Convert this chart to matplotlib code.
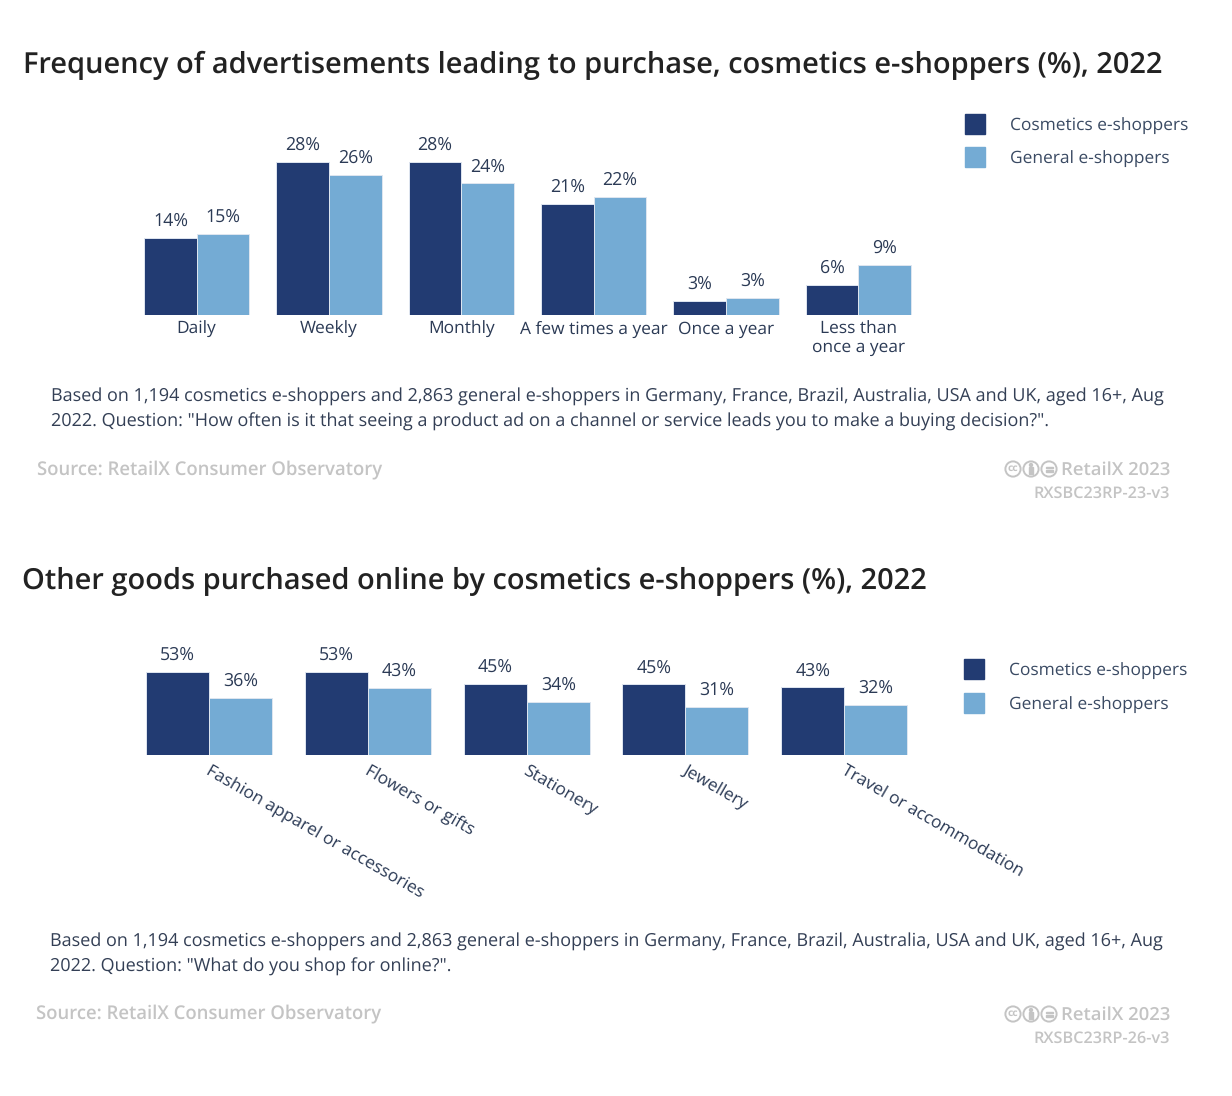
import matplotlib
matplotlib.use("Agg")
import matplotlib.pyplot as plt
from matplotlib.patches import Circle, Rectangle
import numpy as np

plt.rcParams['font.family'] = ['Open Sans', 'DejaVu Sans']
plt.rcParams['text.hinting'] = 'no_hinting'

NAVY = '#223b72'
BLUE = '#74abd4'
TEXT = '#2b3a55'
GREY = '#c4c4c4'
W, H = 1232, 1096

# top chart, bar heights (labels are the rounded values)
freq_cats = ['Daily', 'Weekly', 'Monthly', 'A few times a year', 'Once a year', 'Less than\nonce a year']
freq_cosmetics = [14.3, 28.4, 28.4, 20.6, 2.6, 5.6]
freq_general = [15.0, 26.0, 24.4, 21.9, 3.2, 9.3]
# bottom chart
goods_cats = ['Fashion apparel or accessories', 'Flowers or gifts', 'Stationery', 'Jewellery', 'Travel or accommodation']
goods_cosmetics = [53.4, 53.2, 45.4, 45.3, 43.4]
goods_general = [36.4, 43.0, 34.0, 30.8, 32.0]

series_names = ['Cosmetics e-shoppers', 'General e-shoppers']


def px_axes(fig, x0, y0, x1, y1):
    return fig.add_axes([x0 / W, 1 - y1 / H, (x1 - x0) / W, (y1 - y0) / H])


def txt(x, y, s, **kw):
    kw.setdefault('color', TEXT)
    kw.setdefault('va', 'center')
    kw.setdefault('fontsize', 12.5)
    fig.text(x / W, 1 - y / H, s, **kw)


def bars(ax, a, b, width):
    x = np.arange(len(a))
    ax.bar(x - width / 2, a, width, color=NAVY, edgecolor='#dfe6f0', linewidth=0.7)
    ax.bar(x + width / 2, b, width, color=BLUE, edgecolor='#dfe6f0', linewidth=0.7)
    for i in x:
        ax.annotate(f'{round(a[i])}%', (i - width / 2, a[i]), xytext=(0, 5.5), textcoords='offset points',
                    ha='center', va='bottom', fontsize=12.8, color=TEXT)
        ax.annotate(f'{round(b[i])}%', (i + width / 2, b[i]), xytext=(0, 5.5), textcoords='offset points',
                    ha='center', va='bottom', fontsize=12.8, color=TEXT)
    for s in ax.spines.values():
        s.set_visible(False)
    ax.set_yticks([])
    ax.set_xticks(x)
    ax.tick_params(axis='x', length=0)
    ax.set_xlim(-0.5, len(a) - 0.5)


def legend(x, y1, y2):
    for y, c, name in zip((y1, y2), (NAVY, BLUE), series_names):
        overlay.add_patch(Rectangle((x, y - 10), 20, 20, color=c))
        txt(x + 45, y + 2, name, color='#3a4a63', fontsize=12.5)


def cc_icons(x_right, y):
    # creative commons badges, no installed font has them
    cc, by, nd = x_right - 157, x_right - 139, x_right - 121
    for cx in (cc, by, nd):
        overlay.add_patch(Circle((cx, y), 7.6, facecolor='white', edgecolor=GREY, linewidth=1.4))
    overlay.text(cc, y - 0.5, 'cc', fontsize=7.5, color=GREY, ha='center', va='center', fontweight='bold')
    overlay.add_patch(Circle((by, y - 4), 1.5, color=GREY))
    overlay.add_patch(Rectangle((by - 2, y - 2), 4, 7, color=GREY))
    overlay.add_patch(Rectangle((nd - 3.5, y - 2.5), 7, 1.6, color=GREY))
    overlay.add_patch(Rectangle((nd - 3.5, y + 1), 7, 1.6, color=GREY))


def footer(x, y_note, note, y_src, code):
    txt(x, y_note, note, linespacing=1.5, va='top', color='#333f55', fontsize=12.98)
    txt(x - 14, y_src + 2, 'Source: RetailX Consumer Observatory', color=GREY, fontweight='semibold', fontsize=13.35)
    txt(1170, y_src + 2, 'RetailX 2023', color=GREY, ha='right', fontweight='semibold', fontsize=13.3)
    cc_icons(1170, y_src + 1)
    txt(1170, y_src + 26, code, color=GREY, ha='right', fontsize=11.7, fontweight='semibold')


fig = plt.figure(figsize=(W / 100, H / 100), dpi=100)
overlay = fig.add_axes([0, 0, 1, 1], zorder=5)
overlay.set_xlim(0, W)
overlay.set_ylim(H, 0)
overlay.axis('off')

txt(23, 65, 'Frequency of advertisements leading to purchase, cosmetics e-shoppers (%), 2022',
    fontsize=20.93, fontweight='semibold', color='#222222')
ax1 = px_axes(fig, 130.5, 110, 924.5, 315)
bars(ax1, freq_cosmetics, freq_general, 0.397)
ax1.set_ylim(0, 205 / 5.39)
ax1.set_xticks(np.arange(6), freq_cats, fontsize=12.55, color=TEXT, linespacing=1.1)
ax1.tick_params(axis='x', pad=4.3)
legend(965, 124, 157)
footer(51, 388,
       'Based on 1,194 cosmetics e-shoppers and 2,863 general e-shoppers in Germany, France, Brazil, Australia, USA and UK, aged 16+, Aug\n'
       '2022. Question: "How often is it that seeing a product ad on a channel or service leads you to make a buying decision?".',
       468, 'RXSBC23RP-23-v3')

txt(22, 582, 'Other goods purchased online by cosmetics e-shoppers (%), 2022',
    fontsize=20.93, fontweight='semibold', color='#222222')
ax2 = px_axes(fig, 130, 640, 923.5, 755)
bars(ax2, goods_cosmetics, goods_general, 0.397)
ax2.set_ylim(0, 115 / 1.56)
ax2.set_xticklabels([])
for i, name in enumerate(goods_cats):
    ax2.annotate(name, (i, 0), xytext=(1.5, -5.5), textcoords='offset points', rotation=-30,
                 rotation_mode='anchor', ha='left', va='top', fontsize=12.55, color=TEXT,
                 annotation_clip=False)
legend(964, 669, 703)
footer(50, 933,
       'Based on 1,194 cosmetics e-shoppers and 2,863 general e-shoppers in Germany, France, Brazil, Australia, USA and UK, aged 16+, Aug\n'
       '2022. Question: "What do you shop for online?".',
       1013, 'RXSBC23RP-26-v3')

fig.savefig('out.png', dpi=100)
